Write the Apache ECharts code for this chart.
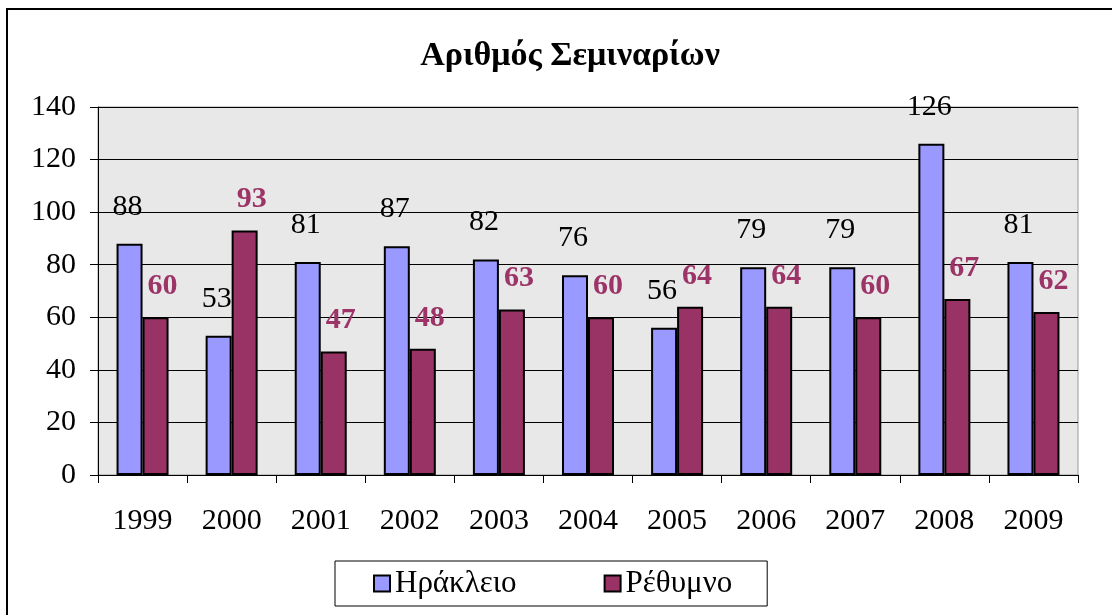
<!DOCTYPE html>
<html>
<head>
<meta charset="utf-8">
<script src="https://cdn.jsdelivr.net/npm/echarts@6/dist/echarts.min.js"></script>
<style>
    html, body { margin: 0; padding: 0; background: #fff; overflow: hidden; }
    #frame {
        position: absolute; left: 6px; top: 8px;
        width: 1200px; height: 700px;
        border: 2px solid #000;
    }
    #chart { position: absolute; left: 0; top: 0; width: 1112px; height: 615px; }
</style>
</head>
<body>
<div id="frame"></div>
<div id="chart"></div>
<script>
var years = ["1999", "2000", "2001", "2002", "2003", "2004", "2005", "2006", "2007", "2008", "2009"];
var heraklion = [88, 53, 81, 87, 82, 76, 56, 79, 79, 126, 81];
var rethymno = [60, 93, 47, 48, 63, 60, 64, 64, 60, 67, 62];
var yTicks = [0, 20, 40, 60, 80, 100, 120, 140];

var fontFamily = "Liberation Serif";
var myChart = echarts.init(document.getElementById("chart"));

myChart.setOption({
    animation: false,
    title: {
        text: "Αριθμός Σεμιναρίων",
        left: 565,
        top: 34,
        textAlign: "center",
        textStyle: {
            fontFamily: fontFamily,
            fontWeight: "bold",
            fontSize: 34,
            color: "#000"
        }
    },
    legend: {
        left: 335,
        top: 561,
        padding: [7, 35, 7, 38],
        itemGap: 87,
        itemWidth: 16,
        itemHeight: 16,
        borderColor: "#000",
        borderWidth: 1,
        icon: "rect",
        textStyle: {
            fontFamily: fontFamily,
            fontSize: 31,
            color: "#000"
        }
    },
    grid: {
        left: 98,
        right: 34,
        top: 107,
        bottom: 140,
        show: true,
        backgroundColor: "#E8E8E8",
        borderColor: "#999",
        borderWidth: 1
    },
    xAxis: {
        type: "category",
        data: years,
        axisLine: { lineStyle: { color: "#000", width: 1 } },
        axisTick: { show: true, length: 8, lineStyle: { color: "#000" } },
        axisLabel: {
            margin: 31,
            fontFamily: fontFamily,
            fontSize: 30,
            color: "#000"
        }
    },
    yAxis: {
        type: "value",
        min: yTicks[0],
        max: yTicks[yTicks.length - 1],
        interval: 20,
        axisLine: { show: true, lineStyle: { color: "#000", width: 1 } },
        axisTick: { show: true, length: 8, lineStyle: { color: "#000" } },
        axisLabel: {
            margin: 22,
            fontFamily: fontFamily,
            fontSize: 30,
            color: "#000"
        },
        splitLine: { lineStyle: { color: "#000", width: 1 } }
    },
    series: [
        {
            type: "bar",
            name: "Ηράκλειο",
            data: heraklion,
            barWidth: 26,
            barGap: "0%",
            itemStyle: { color: "#9999FF", borderColor: "#000", borderWidth: 2 },
            label: {
                show: true,
                position: "top",
                distance: 22,
                offset: [-2, 0],
                fontFamily: fontFamily,
                fontSize: 30,
                color: "#000"
            }
        },
        {
            type: "bar",
            name: "Ρέθυμνο",
            data: rethymno,
            barWidth: 26,
            itemStyle: { color: "#993366", borderColor: "#000", borderWidth: 2 },
            label: {
                show: true,
                position: "top",
                distance: 16,
                offset: [7, 0],
                fontFamily: fontFamily,
                fontWeight: "bold",
                fontSize: 30,
                color: "#9C3468"
            }
        }
    ]
});
</script>
</body>
</html>
